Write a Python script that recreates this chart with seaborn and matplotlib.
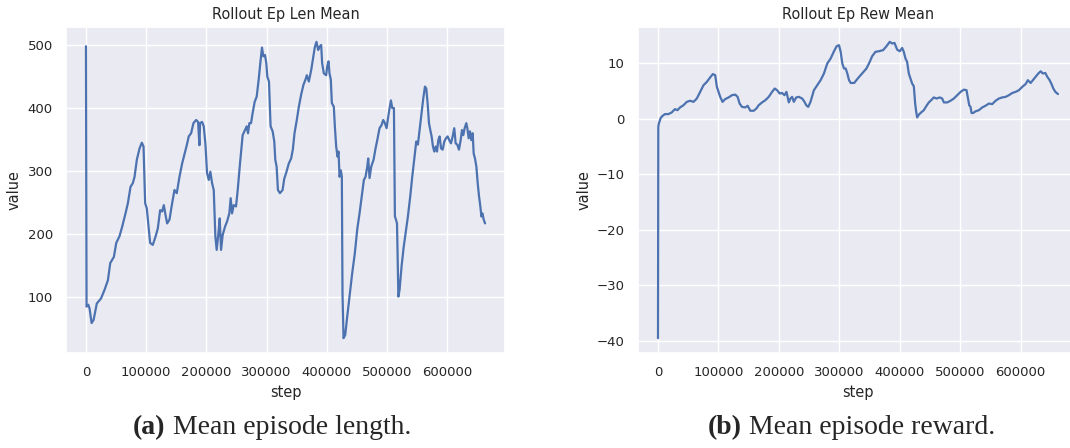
import matplotlib
matplotlib.use("Agg")
import matplotlib.pyplot as plt
import seaborn as sns
import pandas as pd

# Rollout episode length (mean) over training steps
len_steps = [
    0, 1000, 4000, 6000, 9400, 12700, 18000, 25000, 31000, 36500,
    40300, 46400, 50300, 55800, 60200, 65700, 69600, 74000, 77900, 80700,
    84500, 89000, 92800, 95600, 98300, 101000, 103900, 106600, 111000, 115500,
    119300, 123200, 126500, 129300, 132000, 134800, 138700, 143100, 147000, 150800,
    155300, 159700, 163500, 167400, 170700, 174600, 178500, 182900, 186200, 188400,
    189500, 192800, 195600, 198300, 201100, 203900, 206600, 209400, 212200, 214900,
    217100, 219900, 222100, 224300, 227100, 231000, 234300, 238100, 240300, 242600,
    245300, 249200, 252000, 255800, 260200, 264100, 266900, 269100, 271300, 274100,
    276800, 280200, 283500, 286800, 289500, 292300, 294500, 297300, 299500, 301100,
    303900, 306600, 310000, 312700, 314400, 316600, 318800, 322100, 326500, 329300,
    332400, 336800, 340700, 343500, 346300, 350100, 353500, 357300, 361200, 364500,
    366800, 370100, 374000, 376700, 380100, 382800, 385600, 387800, 390600, 392200,
    395000, 398900, 400600, 402800, 404400, 406600, 408300, 411600, 413300, 415500,
    417700, 419400, 421100, 423300, 424900, 426000, 427700, 430500, 433800, 437700,
    442100, 446500, 450400, 454300, 458200, 461500, 464300, 467100, 468700, 470900,
    473700, 477600, 480900, 483700, 487500, 490900, 493600, 496400, 499200, 501900,
    504200, 506400, 508600, 511400, 513000, 514800, 516500, 518800, 520800, 524100,
    527400, 530700, 534600, 538500, 541800, 545100, 548500, 551200, 554000, 557300,
    560100, 562900, 565100, 567300, 569600, 571800, 574000, 576200, 578400, 580700,
    582900, 585100, 587300, 589600, 592300, 595100, 597800, 600600, 603300, 606100,
    608900, 611600, 613900, 616600, 619400, 622200, 624400, 626600, 628800, 631600,
    633300, 635500, 637700, 639900, 642200, 643800, 646000, 648300, 650500, 652700,
    654900, 656600, 658300, 660500, 662700,
]
len_values = [
    498, 85, 88, 82, 59, 64, 90, 98, 112, 127,
    154, 164, 186, 197, 212, 233, 249, 275, 281, 291,
    318, 336, 345, 339, 249, 241, 212, 186, 183, 196,
    209, 238, 236, 246, 231, 217, 223, 249, 270, 265,
    291, 312, 326, 341, 355, 360, 376, 381, 378, 341,
    376, 378, 371, 344, 297, 286, 299, 281, 270, 196,
    175, 201, 225, 175, 199, 212, 220, 233, 257, 233,
    246, 244, 270, 312, 357, 365, 371, 360, 376, 376,
    392, 410, 418, 445, 471, 496, 482, 484, 471, 450,
    442, 371, 363, 347, 318, 307, 270, 265, 270, 288,
    297, 312, 320, 334, 360, 381, 402, 421, 437, 445,
    452, 442, 460, 476, 497, 505, 492, 497, 500, 471,
    455, 452, 466, 474, 455, 445, 408, 402, 371, 339,
    323, 331, 291, 301, 291, 106, 35, 40, 69, 101,
    138, 170, 207, 233, 262, 286, 291, 307, 320, 289,
    307, 318, 336, 349, 368, 373, 381, 376, 368, 386,
    400, 412, 400, 400, 228, 223, 217, 101, 112, 149,
    178, 201, 228, 260, 291, 318, 347, 342, 365, 392,
    415, 434, 431, 408, 376, 365, 355, 339, 331, 339,
    331, 349, 355, 336, 334, 347, 352, 355, 349, 344,
    355, 368, 344, 342, 334, 349, 365, 357, 368, 376,
    368, 352, 363, 349, 360, 328, 320, 307, 281, 260,
    244, 228, 233, 223, 217,
]

# Rollout episode reward (mean) over training steps
rew_steps = [
    0, 500, 1700, 4400, 7700, 11600, 17200, 22700, 28200, 32100,
    36500, 42100, 47600, 53100, 58700, 64200, 69700, 75300, 80800, 86300,
    90800, 94600, 97400, 100200, 102900, 106800, 111200, 116800, 122300, 127800,
    131700, 135000, 138900, 144400, 148300, 152700, 158300, 162700, 166600, 172100,
    177600, 183200, 188700, 193100, 197000, 201400, 205300, 209200, 212500, 216400,
    219100, 221900, 224700, 228600, 233000, 238500, 242400, 245200, 248500, 252300,
    257900, 263400, 269000, 274500, 280000, 285600, 291100, 295500, 299400, 302200,
    304900, 307700, 310500, 313200, 316000, 318800, 324600, 330400, 337600, 344800,
    350300, 354200, 359700, 365200, 372400, 377900, 383400, 387300, 391200, 395600,
    400000, 403900, 406600, 409400, 412100, 414900, 417700, 420400, 423200, 425400,
    427000, 428700, 431500, 435300, 439700, 444200, 448000, 451900, 456300, 460700,
    466200, 470100, 472900, 478400, 483900, 489400, 495000, 500600, 506100, 510400,
    512600, 514800, 517000, 518700, 521400, 525300, 530800, 536300, 541800, 547400,
    552900, 558400, 563900, 569500, 575000, 580500, 586100, 591600, 597100, 602600,
    608100, 611900, 616400, 620800, 625200, 629100, 633000, 636800, 640700, 644000,
    647300, 650600, 654000, 657300, 661700,
]
rew_values = [
    -39.5, -1.4, -0.8, 0.1, 0.5, 0.8, 0.8, 1.1, 1.7, 1.5,
    2.0, 2.4, 3.0, 3.2, 3.0, 3.6, 4.8, 6.0, 6.6, 7.4,
    8.0, 7.8, 5.7, 4.8, 3.9, 3.0, 3.5, 3.8, 4.2, 4.3,
    3.9, 2.7, 2.1, 2.0, 2.3, 1.4, 1.4, 1.8, 2.4, 2.9,
    3.3, 3.9, 4.8, 5.4, 5.1, 4.5, 4.6, 4.2, 4.8, 2.9,
    3.6, 3.9, 3.0, 3.8, 3.9, 3.6, 3.0, 2.4, 2.1, 3.0,
    5.1, 6.0, 6.9, 8.1, 9.9, 10.8, 12.1, 13.0, 13.2, 12.0,
    9.9, 9.0, 9.0, 8.1, 6.9, 6.4, 6.4, 7.2, 8.1, 9.0,
    10.2, 11.2, 12.0, 12.1, 12.3, 13.0, 13.8, 13.5, 13.6, 12.4,
    12.1, 12.7, 12.0, 10.8, 10.2, 8.1, 7.2, 6.3, 5.8, 2.7,
    1.3, 0.2, 0.7, 1.1, 1.5, 2.3, 2.9, 3.3, 3.8, 3.6,
    3.8, 3.6, 2.9, 2.9, 3.2, 3.6, 4.2, 4.8, 5.2, 5.1,
    3.8, 2.4, 2.1, 1.0, 1.0, 1.3, 1.5, 2.0, 2.3, 2.7,
    2.6, 3.2, 3.6, 3.8, 3.9, 4.2, 4.6, 4.8, 5.1, 5.7,
    6.2, 6.9, 6.4, 7.0, 7.6, 8.1, 8.5, 8.1, 8.2, 7.5,
    7.0, 6.3, 5.4, 4.8, 4.4,
]

panel_titles = ["Rollout Ep Len Mean", "Rollout Ep Rew Mean"]
caption_tags = ["(a)", "(b)"]
caption_texts = [" Mean episode length.", " Mean episode reward."]

sns.set_theme(style="darkgrid", context="notebook", font_scale=0.87)
line_color = sns.color_palette("deep")[0]

W, H = 1070, 448
fig = plt.figure(figsize=(W / 100, H / 100), dpi=100)

# axes boxes in pixels: (left, bottom_from_top, width, height)
boxes = [(66, 353, 439, 326), (638, 353, 440, 326)]
axes = []
for (left, bottom, width, height) in boxes:
    axes.append(fig.add_axes([left / W, (H - bottom) / H, width / W, height / H]))

frames = [
    pd.DataFrame({"step": len_steps, "value": len_values}),
    pd.DataFrame({"step": rew_steps, "value": rew_values}),
]

for ax, df, title in zip(axes, frames, panel_titles):
    sns.lineplot(data=df, x="step", y="value", ax=ax, color=line_color,
                 linewidth=1.6, estimator=None)
    ax.set_title(title)

axes[0].set_yticks([100, 200, 300, 400, 500])
axes[1].set_yticks([-40, -30, -20, -10, 0, 10])
for ax in axes:
    ax.set_xticks([0, 100000, 200000, 300000, 400000, 500000, 600000])
    ax.ticklabel_format(axis="x", style="plain", useOffset=False)

# sub-figure captions: bold tag followed by regular text
serif = ["Liberation Serif", "DejaVu Serif"]
caption_x = [133, 708]
for cx, tag, text in zip(caption_x, caption_tags, caption_texts):
    t1 = fig.text(cx / W, (H - 440) / H, tag, family=serif, fontsize=20,
                  fontweight="bold", va="bottom", ha="left")
    axes[0].annotate(text, xy=(1, 0), xycoords=t1, va="bottom", ha="left",
                     family=serif, fontsize=20, annotation_clip=False)

fig.savefig("out.png", dpi=100)
